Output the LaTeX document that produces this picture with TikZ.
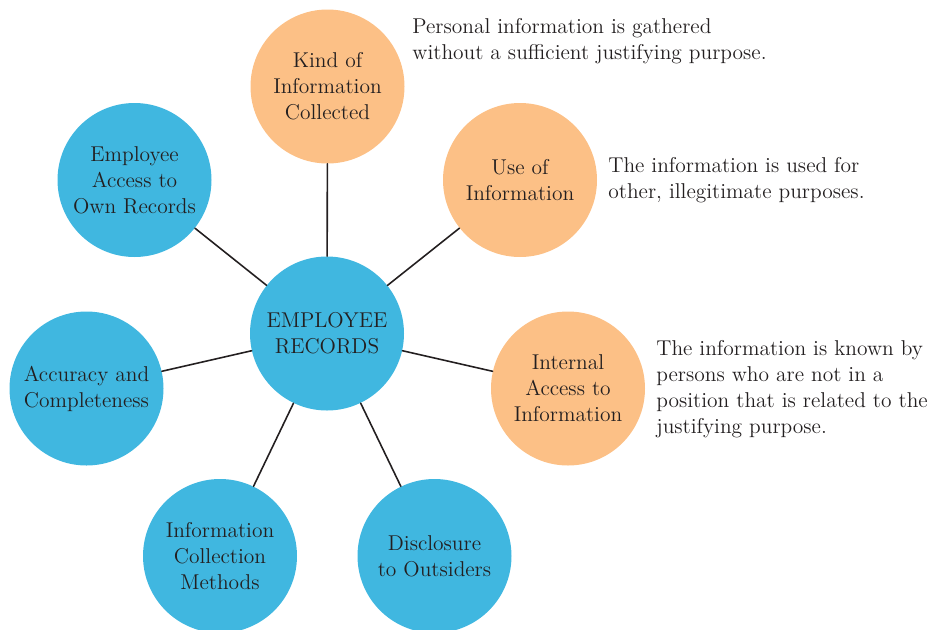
\documentclass[tikz,border=0pt]{standalone}
\usepackage{fontspec}
\begin{document}
\begin{tikzpicture}[x=2cm, y=-2cm, line join=round, line cap=round, font=\fontsize{12.2}{14.75}\selectfont]

% ---------- helpers ----------
\definecolor{recblue}{RGB}{64,183,224}
\definecolor{recorange}{RGB}{252,192,134}
\definecolor{rectext}{RGB}{35,31,32}

\tikzset{
  bubble/.style={circle, minimum size=3.08cm, inner sep=0pt, align=center, text=rectext},
  bluebubble/.style={bubble, fill=recblue},
  orangebubble/.style={bubble, fill=recorange},
  note/.style={anchor=north west, align=left, inner sep=0pt, text=rectext},
  spoke/.style={draw=rectext, line width=0.9pt}
}

\useasboundingbox (0,0) rectangle (9.32,6.29);

% ---------- bubbles ----------
\node[bluebubble] (records) at (3.27,3.335) {EMPLOYEE\\RECORDS};
\node[orangebubble] (kind) at (3.275,0.865) {Kind of\\Information\\Collected};
\node[orangebubble] (use) at (5.20,1.80) {Use of\\Information};
\node[orangebubble] (internal) at (5.68,3.885) {Internal\\Access to\\Information};
\node[bluebubble] (disclosure) at (4.345,5.56) {Disclosure\\to Outsiders};
\node[bluebubble] (methods) at (2.20,5.56) {Information\\Collection\\Methods};
\node[bluebubble] (accuracy) at (0.865,3.885) {Accuracy and\\Completeness};
\node[bluebubble] (access) at (1.345,1.80) {Employee\\Access to\\Own Records};

% spokes
\foreach \n in {kind,use,internal,disclosure,methods,accuracy,access}{%
  \draw[spoke] (records) -- (\n);
}

% ---------- notes ----------
\node[note] (kindnote) at (4.12,0.185) {Personal information is gathered\\without a sufficient justifying purpose.};
\node[note] (usenote) at (6.08,1.57) {The information is used for\\other, illegitimate purposes.};
\node[note] (internalnote) at (6.56,3.40) {The information is known by\\persons who are not in a\\position that is related to the\\justifying purpose.};

\end{tikzpicture}
\end{document}
